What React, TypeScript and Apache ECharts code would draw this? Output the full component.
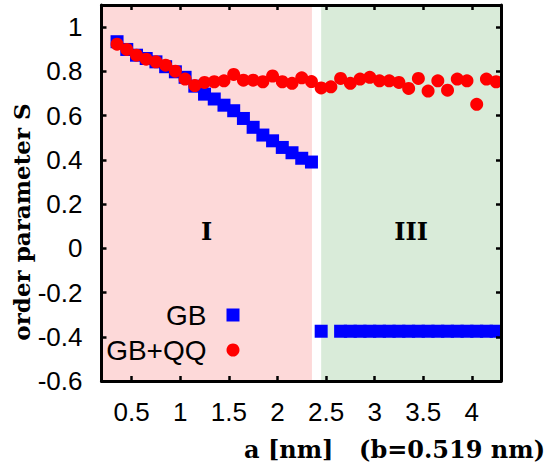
import React, { useEffect, useRef } from "react";
import * as echarts from "echarts";

// ---- data ----
const gbA = [
  0.35, 0.45, 0.55, 0.65, 0.75, 0.85, 0.95, 1.05, 1.15, 1.25, 1.35, 1.45, 1.55, 1.65, 1.75, 1.85, 1.95, 2.05, 2.15, 2.25, 2.35,
  2.45, 2.65, 2.75, 2.85, 2.95, 3.05, 3.15, 3.25, 3.35, 3.45, 3.55, 3.65, 3.75, 3.85, 3.95, 4.05, 4.15, 4.25,
];
const gbS = [
  0.934, 0.899, 0.873, 0.858, 0.843, 0.821, 0.798, 0.773, 0.733, 0.697, 0.675, 0.647, 0.622, 0.587, 0.547, 0.512, 0.486, 0.456, 0.432, 0.407, 0.39,
  -0.375, -0.375, -0.375, -0.375, -0.375, -0.375, -0.375, -0.375, -0.375, -0.375, -0.375, -0.375, -0.375, -0.375, -0.375, -0.375, -0.375, -0.375,
];
const qqA = [
  0.35, 0.45, 0.55, 0.65, 0.75, 0.85, 0.95, 1.05, 1.15, 1.25, 1.35, 1.45, 1.55, 1.65, 1.75, 1.85, 1.95, 2.05, 2.15, 2.25,
  2.35, 2.45, 2.55, 2.65, 2.75, 2.85, 2.95, 3.05, 3.15, 3.25, 3.35, 3.45, 3.55, 3.65, 3.75, 3.85, 3.95, 4.05, 4.15, 4.25,
];
const qqS = [
  0.923, 0.899, 0.873, 0.855, 0.843, 0.828, 0.801, 0.765, 0.736, 0.75, 0.753, 0.757, 0.786, 0.76, 0.76, 0.753, 0.779, 0.753, 0.746, 0.771,
  0.754, 0.725, 0.73, 0.768, 0.746, 0.765, 0.773, 0.757, 0.757, 0.75, 0.723, 0.768, 0.711, 0.757, 0.715, 0.765, 0.757, 0.651, 0.765, 0.753,
];
const xTicks = [0.5, 1, 1.5, 2, 2.5, 3, 3.5, 4];
const yTicks = [-0.6, -0.4, -0.2, 0, 0.2, 0.4, 0.6, 0.8, 1];
const X_MIN = 0.19;
const X_MAX = 4.3;
const Y_MIN = -0.6;
const Y_MAX = 1.1;
const regionNames = ["I", "III"];
const regionFrom = [0.19, 2.45];
const regionTo = [2.355, 4.3];
const regionColors = ["#fdd9d9", "#d9ebd9"];

const SANS = "Liberation Sans";
const SERIF = "DejaVu Serif";

function makeAxisX(pos: "bottom" | "top", labels: boolean) {
  return {
    type: "value",
    position: pos,
    min: X_MIN,
    max: X_MAX,
    z: 10,
    axisLine: { show: true, onZero: false, lineStyle: { color: "#000", width: 3 } },
    axisTick: { show: true, inside: true, length: 5, customValues: xTicks, lineStyle: { color: "#000", width: 2.5 } },
    axisLabel: {
      show: labels,
      customValues: xTicks,
      margin: 18,
      color: "#000",
      fontFamily: SANS,
      fontSize: 26,
    },
    splitLine: { show: false },
  };
}

function makeAxisY(pos: "left" | "right", labels: boolean) {
  return {
    type: "value",
    position: pos,
    min: Y_MIN,
    max: Y_MAX,
    z: 10,
    axisLine: { show: true, onZero: false, lineStyle: { color: "#000", width: 3 } },
    axisTick: { show: true, inside: true, length: 5, customValues: yTicks, lineStyle: { color: "#000", width: 2.5 } },
    axisLabel: {
      show: labels,
      customValues: yTicks,
      margin: 19,
      color: "#000",
      fontFamily: SANS,
      fontSize: 26,
    },
    splitLine: { show: false },
  };
}

export default function App() {
  const ref = useRef<HTMLDivElement>(null);
  useEffect(() => {
    if (!ref.current) return;
    const chart = echarts.init(ref.current, undefined, { renderer: "svg" });
    const legendText = { color: "#000", fontFamily: SANS, fontSize: 28, padding: [0, 15, 0, 0] };
    chart.setOption({
      animation: false,
      backgroundColor: "#fff",
      grid: { left: 101.5, right: 47, top: 5, bottom: 85, containLabel: false },
      xAxis: [makeAxisX("bottom", true), makeAxisX("top", false)],
      yAxis: [makeAxisY("left", true), makeAxisY("right", false)],
      legend: [
        {
          data: ["GB"],
          orient: "vertical",
          align: "right",
          right: 308.5,
          top: 301,
          padding: 0,
          itemWidth: 13,
          itemHeight: 13,
          textStyle: legendText,
          selectedMode: false,
        },
        {
          data: ["GB+QQ"],
          orient: "vertical",
          align: "right",
          right: 308.5,
          top: 336,
          padding: 0,
          itemWidth: 13,
          itemHeight: 13,
          textStyle: legendText,
          selectedMode: false,
        },
      ],
      series: [
        {
          type: "scatter",
          name: "regions",
          data: [],
          z: 1,
          silent: true,
          markArea: {
            silent: true,
            data: regionNames.map((n, i) => [
              {
                name: n,
                xAxis: regionFrom[i],
                yAxis: Y_MIN,
                itemStyle: { color: regionColors[i], opacity: 1 },
              },
              { xAxis: regionTo[i], yAxis: Y_MAX },
            ]),
            label: {
              show: true,
              position: "inside",
              offset: [0, 38],
              color: "#000",
              fontFamily: SERIF,
              fontWeight: "bold",
              fontSize: 24,
            },
          },
        },
        {
          type: "scatter",
          name: "GB",
          symbol: "rect",
          symbolSize: 13,
          itemStyle: { color: "#0000ff", opacity: 1 },
          z: 2,
          data: gbA.map((a, i) => [a, gbS[i]]),
        },
        {
          type: "scatter",
          name: "GB+QQ",
          symbol: "circle",
          symbolSize: 13,
          itemStyle: { color: "#ff0000", opacity: 1 },
          z: 3,
          data: qqA.map((a, i) => [a, qqS[i]]),
        },
      ],
      graphic: [
        {
          type: "text",
          x: 21,
          y: 222,
          rotation: Math.PI / 2,
          style: {
            text: "order parameter S",
            fontFamily: SERIF,
            fontWeight: "bold",
            fontSize: 23,
            fill: "#000",
            textAlign: "center",
            textVerticalAlign: "middle",
            align: "center",
            verticalAlign: "middle",
          },
        },
        {
          type: "text",
          x: 244,
          y: 449,
          style: {
            text: "a [nm]",
            fontFamily: SERIF,
            fontWeight: "bold",
            fontSize: 24,
            fill: "#000",
            textAlign: "left",
            textVerticalAlign: "middle",
            align: "left",
            verticalAlign: "middle",
          },
        },
        {
          type: "text",
          x: 545,
          y: 449,
          style: {
            text: "(b=0.519 nm)",
            fontFamily: SERIF,
            fontWeight: "bold",
            fontSize: 24,
            fill: "#000",
            textAlign: "right",
            textVerticalAlign: "middle",
            align: "right",
            verticalAlign: "middle",
          },
        },
      ],
    });
    return () => chart.dispose();
  }, []);
  return <div ref={ref} style={{ width: 548, height: 466, position: "absolute", left: 0, top: 0 }} />;
}
